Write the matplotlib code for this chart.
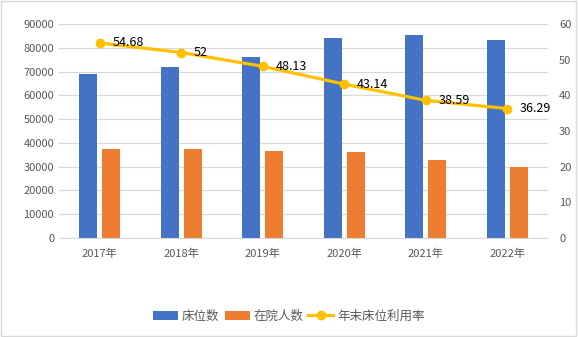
import matplotlib

matplotlib.use("Agg")
import matplotlib.pyplot as plt
import numpy as np

plt.rcParams["font.family"] = ["Noto Sans CJK SC", "DejaVu Sans"]

# ── Data ────────────────────────────────────────────────────────────────────
years = ["2017年", "2018年", "2019年", "2020年", "2021年", "2022年"]
beds = [69000, 72000, 76000, 84000, 85500, 83300]
inpatients = [37500, 37500, 36700, 36200, 32800, 30000]
usage_rate = [54.68, 52, 48.13, 43.14, 38.59, 36.29]
usage_labels = ["54.68", "52", "48.13", "43.14", "38.59", "36.29"]

BLUE = "#4472C4"
ORANGE = "#ED7D31"
GOLD = "#FFC000"
TICK = "#595959"
GRID = "#D9D9D9"

fig = plt.figure(figsize=(5.78, 3.37), dpi=100)
ax = fig.add_axes([59 / 578, 1 - 238 / 337, 489 / 578, 214 / 337])
ax2 = ax.twinx()

x = np.arange(len(years))
w = 0.22
ax.bar(x - 0.14, beds, w, color=BLUE, label="床位数", zorder=2)
ax.bar(x + 0.14, inpatients, w, color=ORANGE, label="在院人数", zorder=2)

ax2.plot(x, usage_rate, color=GOLD, lw=2.3, marker="o", ms=6,
         label="年末床位利用率", zorder=3)
for xi, v, t in zip(x, usage_rate, usage_labels):
    ax2.annotate(t, (xi, v), xytext=(9, 0), textcoords="offset points",
                 ha="left", va="center", fontsize=9, color="black")

ax.set_xlim(-0.5, len(years) - 0.5)
ax.set_ylim(0, 90000)
ax.set_yticks(range(0, 90001, 10000))
ax2.set_ylim(0, 60)
ax2.set_yticks(range(0, 61, 10))
ax.set_xticks(x)
ax.set_xticklabels(years)

ax.yaxis.grid(True, color=GRID, lw=0.9, zorder=0)
ax.set_axisbelow(True)
for a in (ax, ax2):
    for s in a.spines.values():
        s.set_visible(False)
    a.tick_params(length=0, colors=TICK, labelsize=8)
ax.spines["bottom"].set_visible(True)
ax.spines["bottom"].set_color(GRID)
ax.tick_params(axis="x", pad=8)
ax2.tick_params(axis="y", pad=8)

h1, l1 = ax.get_legend_handles_labels()
h2, l2 = ax2.get_legend_handles_labels()
fig.legend(h1 + h2, l1 + l2, loc="center", bbox_to_anchor=(0.5, 1 - 316 / 337),
           ncol=3, frameon=False, fontsize=9, handlelength=2.0,
           handletextpad=0.3, columnspacing=0.4, labelcolor=TICK)

fig.patches.append(plt.Rectangle((0.002, 0.003), 0.995, 0.994, fill=False,
                                 ec="#D9D9D9", lw=1, transform=fig.transFigure))

fig.savefig("out.png", dpi=100)
